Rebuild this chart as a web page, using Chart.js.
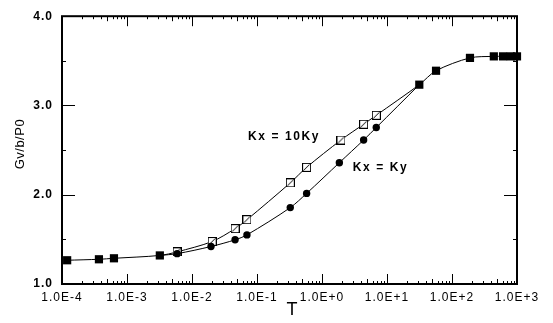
<!DOCTYPE html>
<html><head><meta charset="utf-8">
<script src="https://cdn.jsdelivr.net/npm/chart.js@4.4.0/dist/chart.umd.min.js"></script>
<style>html,body{margin:0;padding:0;background:#fff}#wrap{width:553px;height:323px;position:relative}</style>
</head><body><div id="wrap"><canvas id="c"></canvas></div>
<script>
// ---- data ----
const sharedLowT = [1.2e-4, 3.7e-4, 6.3e-4, 3.2e-3];
const sharedLowG = [1.266, 1.277, 1.288, 1.32];
const kx10T = [5.9e-3, 0.0204, 0.046, 0.07, 0.325, 0.58, 1.96, 4.37, 6.84];
const kx10G = [1.36, 1.476, 1.62, 1.72, 2.133, 2.307, 2.613, 2.79, 2.89];
const kxT = [5.9e-3, 0.0196, 0.046, 0.07, 0.325, 0.58, 1.85, 4.37, 6.84];
const kxG = [1.34, 1.42, 1.495, 1.55, 1.856, 2.015, 2.359, 2.613, 2.753];
const sharedHighT = [31.4, 56.8, 189, 440, 610, 800, 1000];
const sharedHighG = [3.233, 3.389, 3.533, 3.55, 3.55, 3.55, 3.55];
const xTickValues = [1e-4, 1e-3, 1e-2, 1e-1, 1e0, 1e1, 1e2, 1e3];
const xTickLabels = ['1.0E-4','1.0E-3','1.0E-2','1.0E-1','1.0E+0','1.0E+1','1.0E+2','1.0E+3'];
const yTickValues = [1, 2, 3, 4];
const yTickLabels = ['1.0','2.0','3.0','4.0'];
const xTitle = 'T';
const yTitle = 'Gv/b/P0';
const curveNames = ['Kx = 10Ky', 'Kx = Ky'];
const curveNameT = [0.0727, 2.97];
const curveNameG = [2.65, 2.307];

function pts(T, G){ return T.map((t,i)=>({x:t, y:G[i]})); }

function slashSquare(){
  const s = 9, c = document.createElement('canvas');
  c.width = s; c.height = s;
  const g = c.getContext('2d');
  g.fillStyle = '#fff'; g.fillRect(0.5,0.5,s-1,s-1);
  g.strokeStyle = '#000'; g.lineWidth = 1;
  g.strokeRect(0.5,0.5,s-1,s-1);
  g.beginPath(); g.moveTo(1.5,s-1.5); g.lineTo(s-1.5,1.5); g.stroke();
  return c;
}
const openSq = slashSquare();

const dataA = pts(sharedLowT, sharedLowG).concat(pts(kx10T, kx10G), pts(sharedHighT, sharedHighG));
const styleA = sharedLowT.map(()=> 'rect').concat(kx10T.map(()=>openSq), sharedHighT.map(()=>'rect'));
const radiusA = sharedLowT.map(()=>5.8).concat(kx10T.map(()=>4.5), sharedHighT.map(()=>5.8));

const dataB = pts(sharedLowT.slice(-1), sharedLowG.slice(-1)).concat(pts(kxT, kxG), pts(sharedHighT.slice(0,1), sharedHighG.slice(0,1)));
const radiusB = [0].concat(kxT.map(()=>3.7), [0]);

const FONT = "'Liberation Sans', Arial, sans-serif";

const framePlugin = {
  id: 'frame',
  beforeDraw(chart){ chart.ctx.letterSpacing = '1px'; },
  beforeDatasetsDraw(chart){
    const {ctx, chartArea:a, scales:{x, y}} = chart;
    ctx.save();
    ctx.strokeStyle = '#000';
    const line = (x1,y1,x2,y2)=>{ ctx.beginPath(); ctx.moveTo(x1,y1); ctx.lineTo(x2,y2); ctx.stroke(); };
    ctx.lineWidth = 1;
    for (let e = -4; e <= 3; e++) {
      for (let m = 1; m <= 9; m++) {
        const v = m * Math.pow(10, e);
        if (v > 1000.001) break;
        const px = Math.round(x.getPixelForValue(v)) + 0.5;
        const len = m === 1 ? 10 : (m === 5 ? 5 : 3);
        line(px, a.bottom, px, a.bottom - len);
        line(px, a.top, px, a.top + len);
      }
    }
    for (let v = 1; v <= 4.0001; v += 0.5) {
      const py = Math.round(y.getPixelForValue(v)) + 0.5;
      const len = Number.isInteger(v) ? 13 : 4;
      line(a.left, py, a.left + len, py);
      line(a.right, py, a.right - len, py);
    }
    ctx.lineWidth = 2;
    ctx.strokeRect(a.left, a.top, a.right - a.left, a.bottom - a.top);
    ctx.restore();
  },
  afterDatasetsDraw(chart){
    const {ctx, chartArea:a, scales:{x, y}} = chart;
    ctx.save();
    ctx.fillStyle = '#000';
    ctx.font = "bold 12px " + FONT;
    ctx.letterSpacing = '1.6px';
    ctx.textAlign = 'left';
    ctx.textBaseline = 'middle';
    curveNames.forEach((t,i)=>{
      ctx.fillText(t, x.getPixelForValue(curveNameT[i]), y.getPixelForValue(curveNameG[i]));
    });
    // axis titles
    ctx.letterSpacing = '0px';
    ctx.textAlign = 'center';
    ctx.font = "18px " + FONT;
    ctx.fillText(xTitle, (a.left + a.right) / 2 + 2.5, a.bottom + 26);
    ctx.font = "13px " + FONT;
    ctx.letterSpacing = '0.5px';
    ctx.translate(20, (a.top + a.bottom) / 2 - 6);
    ctx.rotate(-Math.PI / 2);
    ctx.fillText(yTitle, 0, 0);
    ctx.restore();
  }
};

new Chart(document.getElementById('c'), {
  type: 'line',
  data: {
    datasets: [
      { label: curveNames[1], data: dataB, borderColor: '#000', borderWidth: 1, tension: 0.3,
        pointStyle: 'circle', pointRadius: radiusB, pointBackgroundColor: '#000', pointBorderColor: '#000',
        pointBorderWidth: 0, clip: false, order: 0 },
      { label: curveNames[0], data: dataA, borderColor: '#000', borderWidth: 1, tension: 0.3,
        pointStyle: styleA, pointRadius: radiusA, pointBackgroundColor: '#000', pointBorderColor: '#000',
        pointBorderWidth: 0, clip: false, order: 1 }
    ]
  },
  options: {
    responsive: true, maintainAspectRatio: false, animation: false,
    layout: { padding: { left: 0, right: 36, top: 13, bottom: 0 } },
    plugins: { legend: { display: false }, tooltip: { enabled: false } },
    scales: {
      x: {
        type: 'logarithmic', min: 1e-4, max: 1e3,
        grid: { display: false, drawTicks: false }, border: { display: false },
        afterBuildTicks: s => { s.ticks = xTickValues.map(v => ({ value: v })); },
        afterFit: s => { s.height = 39; },
        ticks: { autoSkip: false, maxRotation: 0, minRotation: 0, padding: 6, color: '#000',
                 font: { family: FONT, size: 12 }, callback: (v, i) => xTickLabels[i] },
        title: { display: false }
      },
      y: {
        type: 'linear', min: 1, max: 4,
        grid: { display: false, drawTicks: false }, border: { display: false },
        afterBuildTicks: s => { s.ticks = yTickValues.map(v => ({ value: v })); },
        afterFit: s => { s.width = 62; },
        ticks: { padding: 9, color: '#000', font: { family: FONT, size: 12, weight: 'bold' },
                 callback: (v, i) => yTickLabels[i] },
        title: { display: false }
      }
    }
  },
  plugins: [framePlugin]
});
</script>
</body></html>
